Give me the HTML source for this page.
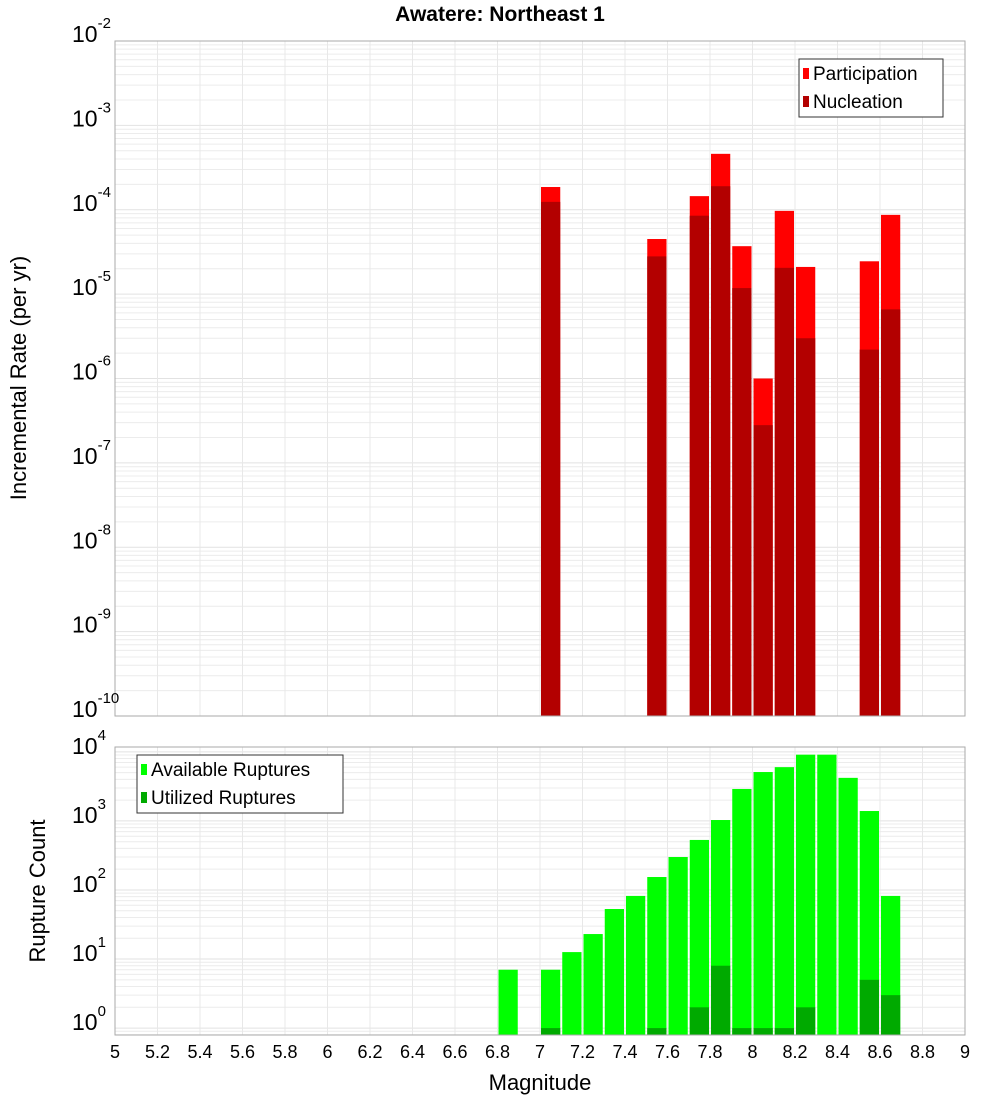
<!DOCTYPE html>
<html><head><meta charset="utf-8"><style>
html,body{margin:0;padding:0;background:#fff;width:1000px;height:1100px;overflow:hidden}
svg{font-family:"Liberation Sans","DejaVu Sans",sans-serif}
</style></head><body>
<svg id="c" width="1000" height="1100" xmlns="http://www.w3.org/2000/svg">
<text x="500" y="21" text-anchor="middle" font-size="21" font-weight="bold">Awatere: Northeast 1</text>
<text transform="translate(26,378) rotate(-90)" text-anchor="middle" font-size="22">Incremental Rate (per yr)</text>
<text transform="translate(45,891) rotate(-90)" text-anchor="middle" font-size="22">Rupture Count</text>
<text x="540" y="1090" text-anchor="middle" font-size="22">Magnitude</text>
</svg>
<script>
const rateMags=[7.0,7.5,7.7,7.8,7.9,8.0,8.1,8.2,8.5,8.6];
const participation=[1.86e-4,4.5e-5,1.45e-4,4.6e-4,3.7e-5,1.0e-6,9.7e-5,2.1e-5,2.45e-5,8.7e-5];
const nucleation=[1.24e-4,2.8e-5,8.5e-5,1.9e-4,1.18e-5,2.8e-7,2.05e-5,3.0e-6,2.2e-6,6.6e-6];
const countMags=[6.8,7.0,7.1,7.2,7.3,7.4,7.5,7.6,7.7,7.8,7.9,8.0,8.1,8.2,8.3,8.4,8.5,8.6];
const available=[7,7,12.6,23,53,82,154,300,530,1030,2900,5100,6000,9100,9100,4200,1390,82];
const utilized=[0,1,0,0,0,0,1,0,2,8,1,1,1,2,0,0,5,3];
const xTicks=[5,5.2,5.4,5.6,5.8,6,6.2,6.4,6.6,6.8,7,7.2,7.4,7.6,7.8,8,8.2,8.4,8.6,8.8,9];
const topExps=[-10,-9,-8,-7,-6,-5,-4,-3,-2];
const botExps=[0,1,2,3,4];

const svg=document.getElementById('c');
const NS='http://www.w3.org/2000/svg';
function el(t,a,p){const e=document.createElementNS(NS,t);for(const k in a)e.setAttribute(k,a[k]);(p||svg).appendChild(e);return e;}
const X0=115,X1=965;
const x=m=>X0+(m-5)/4*(X1-X0);
const T={top:41,bot:716,lo:-10,hi:-2};
const B={top:747,bot:1035,lo:-0.1,hi:4.07};
const yT=v=>T.bot-(Math.log10(v)-T.lo)/(T.hi-T.lo)*(T.bot-T.top);
const yB=v=>B.bot-(Math.log10(v)-B.lo)/(B.hi-B.lo)*(B.bot-B.top);

function grid(P,yf,name){
  const g=el('g',{});
  
  
  for(let d=Math.floor(P.lo);d<=Math.ceil(P.hi);d++)for(let k=1;k<10;k++){
    const v=k*Math.pow(10,d);const yy=yf(v);
    if(yy<P.top||yy>P.bot)continue;
    el('line',{x1:X0,x2:X1,y1:yy,y2:yy,stroke:k==1?'#e2e2e2':'#ececec','stroke-width':1},g);
  }
  xTicks.forEach(t=>el('line',{x1:x(t),x2:x(t),y1:P.top,y2:P.bot,stroke:'#e8e8e8'},g));
}
grid(T,yT,'top');grid(B,yB,'bottom');

function bar(m,v,yf,P,fill,name){
  const r=el('rect',{x:x(m)+1,y:yf(v),width:x(m+0.1)-x(m)-2,height:P.bot-yf(v),fill:fill});
  
  
}
rateMags.forEach((m,i)=>{bar(m,participation[i],yT,T,'#ff0000','participation-bar');bar(m,nucleation[i],yT,T,'#b30000','nucleation-bar');});
countMags.forEach((m,i)=>{bar(m,available[i],yB,B,'#00ff00','available-bar');if(utilized[i]>0)bar(m,utilized[i],yB,B,'#00aa00','utilized-bar');});

[T,B].forEach((P,j)=>{const f=el('rect',{x:X0,y:P.top,width:X1-X0,height:P.bot-P.top,fill:'none',stroke:'#aaa'});
  
  });

function ylab(e,yy,name){
  const t=el('text',{x:110,y:yy,'text-anchor':'end','font-size':23});
  
  
  const a=el('tspan',{},t);a.textContent='10';
  const b=el('tspan',{dy:-14,'font-size':15},t);b.textContent=String(e);
  t.setAttribute('x',72);t.setAttribute('text-anchor','start');
}
topExps.forEach(e=>ylab(e,yT(Math.pow(10,e))+1,'top-y-tick-label'));
botExps.forEach(e=>ylab(e,yB(Math.pow(10,e))+2,'bottom-y-tick-label'));
xTicks.forEach(t=>{const s=el('text',{x:x(t),y:1058,'text-anchor':'middle','font-size':18});s.textContent=String(t);
  
  });

function legend(bx,by,w,items,name){
  const g=el('g',{});
  
  
  el('rect',{x:bx,y:by,width:w,height:58,fill:'#fff',stroke:'#333'},g);
  items.forEach((it,i)=>{
    el('rect',{x:bx+4,y:by+9+i*28,width:6,height:11,fill:it[1]},g);
    const t=el('text',{x:bx+14,y:by+21+i*28,'font-size':19},g);t.textContent=it[0];
  });
}
legend(799,59,144,[['Participation','#ff0000'],['Nucleation','#b30000']],'top-legend');
legend(137,755,206,[['Available Ruptures','#00ff00'],['Utilized Ruptures','#00aa00']],'bottom-legend');
</script>
</body></html>
